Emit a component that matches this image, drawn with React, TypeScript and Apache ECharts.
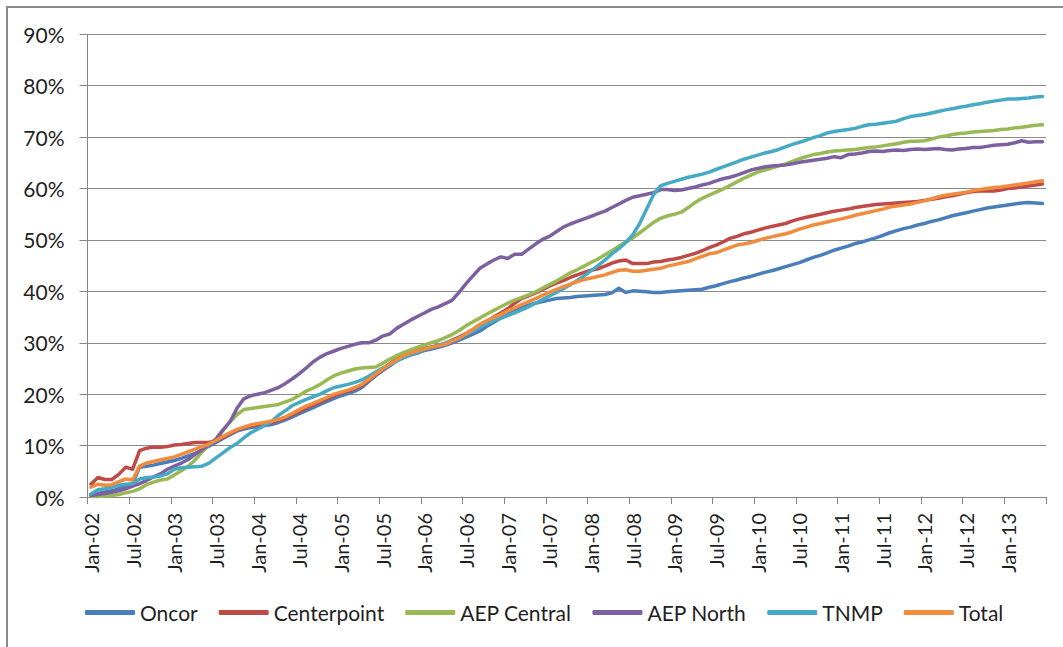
import React, { useEffect, useRef } from "react";
import * as echarts from "echarts";

const monthNames = ["Jan", "Feb", "Mar", "Apr", "May", "Jun", "Jul", "Aug", "Sep", "Oct", "Nov", "Dec"];
const startYear = 2002;
const monthCount = 138;
const categories: string[] = [];
for (let i = 0; i < monthCount; i++) {
  const y = startYear + Math.floor(i / 12);
  categories.push(`${monthNames[i % 12]}-${String(y % 100).padStart(2, "0")}`);
}

const seriesNames = ["Oncor", "Centerpoint", "AEP Central", "AEP North", "TNMP", "Total"];
const seriesColors = ["#4A7EBB", "#BE4B48", "#98B954", "#7D60A0", "#46AAC5", "#F08C3E"];

const oncor = [
  0.4, 0.7, 1.0, 1.2, 1.6, 2.2, 2.6, 5.8, 6.0, 6.2, 6.5, 6.8,
  7.1, 7.5, 8.0, 8.5, 9.1, 9.9, 10.6, 11.4, 12.1, 12.8, 13.2, 13.5,
  13.7, 13.9, 14.1, 14.5, 15.0, 15.6, 16.2, 16.8, 17.4, 18.0, 18.6, 19.2,
  19.7, 20.1, 20.6, 21.3, 22.5, 23.6, 24.6, 25.5, 26.5, 27.1, 27.6, 28.0,
  28.5, 28.8, 29.1, 29.5, 30.0, 30.5, 31.1, 31.7, 32.3, 33.2, 34.0, 34.8,
  35.5, 36.2, 36.9, 37.3, 37.7, 38.0, 38.3, 38.6, 38.7, 38.8, 39.0, 39.1,
  39.2, 39.3, 39.4, 39.7, 40.6, 39.8, 40.1, 40.0, 39.9, 39.8, 39.8, 39.9,
  40.0, 40.1, 40.2, 40.3, 40.4, 40.8, 41.1, 41.5, 41.9, 42.2, 42.6, 42.9,
  43.3, 43.7, 44.0, 44.4, 44.8, 45.2, 45.6, 46.1, 46.6, 47.0, 47.5, 48.0,
  48.4, 48.8, 49.3, 49.6, 50.0, 50.4, 50.9, 51.4, 51.8, 52.2, 52.5, 52.9,
  53.2, 53.6, 53.9, 54.3, 54.7, 55.0, 55.3, 55.6, 55.9, 56.2, 56.4, 56.6,
  56.8, 57.0, 57.2, 57.3, 57.2, 57.1,
];

const centerpoint = [
  2.5, 3.8, 3.4, 3.4, 4.4, 5.8, 5.4, 9.0, 9.5, 9.7, 9.7, 9.8,
  10.1, 10.2, 10.4, 10.6, 10.6, 10.6, 11.0, 11.6, 12.3, 13.0, 13.5, 13.8,
  14.0, 14.2, 14.5, 14.9, 15.4, 16.0, 16.6, 17.3, 17.9, 18.5, 19.1, 19.7,
  20.2, 20.6, 21.1, 21.7, 22.7, 23.8, 24.9, 25.9, 26.9, 27.7, 28.2, 28.6,
  28.9, 29.2, 29.5, 29.9, 30.5, 31.1, 31.8, 32.6, 33.4, 34.2, 35.0, 35.8,
  36.6, 37.7, 38.6, 39.1, 39.7, 40.3, 41.0, 41.6, 42.1, 42.7, 43.2, 43.7,
  44.1, 44.4, 44.9, 45.5, 45.9, 46.1, 45.4, 45.4, 45.4, 45.7, 45.8, 46.1,
  46.3, 46.6, 47.0, 47.4, 47.9, 48.5, 49.0, 49.6, 50.3, 50.7, 51.2, 51.5,
  51.9, 52.3, 52.6, 52.9, 53.2, 53.7, 54.1, 54.4, 54.7, 55.0, 55.3, 55.6,
  55.8, 56.0, 56.3, 56.5, 56.7, 56.9, 57.0, 57.1, 57.2, 57.3, 57.4, 57.5,
  57.7, 57.9, 58.1, 58.4, 58.6, 58.9, 59.2, 59.4, 59.5, 59.5, 59.5, 59.7,
  60.0, 60.1, 60.3, 60.5, 60.7, 60.9,
];

const aepCentral = [
  0.1, 0.1, 0.2, 0.3, 0.5, 0.8, 1.1, 1.6, 2.4, 2.9, 3.3, 3.5,
  4.3, 5.1, 6.0, 7.2, 8.8, 10.2, 11.3, 13.0, 14.6, 16.0, 17.0, 17.2,
  17.4, 17.6, 17.8, 18.0, 18.5, 19.0, 19.8, 20.6, 21.2, 21.9, 22.8, 23.6,
  24.1, 24.5, 24.9, 25.1, 25.2, 25.3, 26.0, 26.8, 27.5, 28.1, 28.6, 29.1,
  29.6, 30.0, 30.4, 31.0, 31.6, 32.4, 33.3, 34.1, 34.8, 35.6, 36.3, 37.0,
  37.7, 38.3, 38.8, 39.3, 39.9, 40.6, 41.3, 42.0, 42.8, 43.6, 44.2, 44.9,
  45.6, 46.3, 47.1, 47.9, 48.8, 49.6, 50.4, 51.4, 52.4, 53.4, 54.2, 54.7,
  55.0, 55.4, 56.3, 57.3, 58.1, 58.7, 59.3, 59.9, 60.6, 61.3, 62.0, 62.6,
  63.2, 63.6, 64.0, 64.4, 64.8, 65.3, 65.8, 66.2, 66.6, 66.8, 67.1, 67.3,
  67.4, 67.5, 67.6, 67.8, 68.0, 68.1, 68.3, 68.5, 68.7, 69.0, 69.2, 69.2,
  69.3, 69.6, 70.0, 70.2, 70.5, 70.7, 70.8, 71.0, 71.1, 71.2, 71.3, 71.5,
  71.6, 71.8, 71.9, 72.1, 72.3, 72.4,
];

const aepNorth = [
  0.3, 0.5, 0.7, 0.9, 1.2, 1.6, 2.1, 2.6, 3.2, 3.9, 4.5, 5.4,
  6.0, 6.6, 7.3, 8.3, 9.2, 10.2, 11.2, 13.0, 14.6, 17.2, 19.1, 19.7,
  20.0, 20.3, 20.8, 21.3, 22.1, 23.0, 24.0, 25.1, 26.3, 27.2, 27.9, 28.4,
  28.9, 29.3, 29.7, 30.0, 30.0, 30.5, 31.3, 31.7, 32.8, 33.6, 34.4, 35.1,
  35.8, 36.5, 37.0, 37.6, 38.3, 39.8, 41.5, 43.0, 44.5, 45.3, 46.1, 46.7,
  46.4, 47.2, 47.2, 48.2, 49.2, 50.1, 50.7, 51.6, 52.5, 53.1, 53.6, 54.1,
  54.6, 55.1, 55.6, 56.3, 57.0, 57.7, 58.3, 58.6, 58.9, 59.2, 59.8, 59.8,
  59.6, 59.7, 60.0, 60.3, 60.7, 61.0, 61.5, 61.9, 62.2, 62.6, 63.1, 63.6,
  63.9, 64.2, 64.4, 64.5, 64.6, 64.8, 65.1, 65.3, 65.5, 65.7, 65.9, 66.2,
  66.0, 66.6, 66.7, 66.9, 67.2, 67.3, 67.2, 67.4, 67.5, 67.4, 67.6, 67.7,
  67.6, 67.7, 67.8, 67.6, 67.5, 67.7, 67.8, 68.0, 68.0, 68.2, 68.4, 68.5,
  68.6, 68.9, 69.3, 69.0, 69.1, 69.1,
];

const tnmp = [
  0.6, 1.4, 1.6, 1.9, 2.3, 2.5, 2.6, 3.5, 3.8, 3.9, 4.1, 4.5,
  5.4, 5.7, 5.8, 5.9, 6.0, 6.6, 7.6, 8.6, 9.6, 10.4, 11.5, 12.5,
  13.2, 13.9, 14.7, 15.9, 16.8, 17.8, 18.4, 19.0, 19.5, 20.0, 20.7, 21.3,
  21.6, 21.9, 22.3, 22.8, 23.5, 24.3, 25.1, 25.8, 26.4, 27.1, 27.7, 28.2,
  28.7, 29.1, 29.5, 29.9, 30.4, 30.9, 31.6, 32.3, 33.0, 33.7, 34.3, 34.8,
  35.3, 35.8, 36.4, 37.0, 37.7, 38.4, 39.1, 39.8, 40.5, 41.3, 42.1, 43.0,
  44.0, 45.0, 46.1, 47.3, 48.3, 49.5, 51.0, 53.2, 56.0, 58.8, 60.5, 61.0,
  61.4, 61.8, 62.2, 62.5, 62.8, 63.2, 63.7, 64.2, 64.7, 65.2, 65.7, 66.1,
  66.5, 66.9, 67.2, 67.6, 68.1, 68.6, 69.0, 69.4, 69.9, 70.3, 70.8, 71.1,
  71.3, 71.5, 71.7, 72.1, 72.4, 72.5, 72.7, 72.9, 73.1, 73.6, 74.0, 74.2,
  74.4, 74.7, 75.0, 75.3, 75.5, 75.8, 76.0, 76.3, 76.5, 76.8, 77.0, 77.2,
  77.4, 77.4, 77.5, 77.6, 77.8, 77.9,
];

const total = [
  1.9, 2.5, 2.3, 2.4, 3.0, 3.5, 3.3, 6.0, 6.6, 6.9, 7.2, 7.5,
  7.8, 8.3, 8.8, 9.3, 9.8, 10.3, 11.0, 11.8, 12.5, 13.1, 13.6, 14.0,
  14.3, 14.5, 14.8, 15.1, 15.6, 16.3, 17.0, 17.7, 18.2, 18.8, 19.4, 20.0,
  20.4, 20.8, 21.3, 21.9, 22.9, 23.9, 24.9, 25.8, 26.7, 27.5, 28.0, 28.4,
  28.8, 29.1, 29.4, 29.7, 30.3, 30.9, 31.7, 32.6, 33.6, 34.3, 34.9, 35.5,
  36.2, 36.8, 37.4, 38.0, 38.6, 39.2, 39.8, 40.4, 40.9, 41.4, 41.9, 42.3,
  42.6, 42.9, 43.2, 43.7, 44.1, 44.2, 43.9, 43.9, 44.1, 44.3, 44.5, 44.9,
  45.2, 45.5, 45.8, 46.3, 46.8, 47.3, 47.5, 48.0, 48.5, 49.0, 49.2, 49.5,
  49.9, 50.3, 50.6, 50.9, 51.2, 51.6, 52.1, 52.5, 52.9, 53.2, 53.5, 53.8,
  54.1, 54.4, 54.8, 55.1, 55.4, 55.7, 56.0, 56.4, 56.6, 56.8, 57.0, 57.3,
  57.6, 58.0, 58.4, 58.7, 58.9, 59.1, 59.3, 59.6, 59.8, 60.0, 60.2, 60.3,
  60.5, 60.7, 60.9, 61.1, 61.3, 61.5,
];

const seriesData = [oncor, centerpoint, aepCentral, aepNorth, tnmp, total];

const FONT = "Lato, 'Open Sans', sans-serif";

export default function App() {
  const ref = useRef<HTMLDivElement>(null);
  useEffect(() => {
    if (!ref.current) return;
    const chart = echarts.init(ref.current, undefined, { renderer: "svg" });
    chart.setOption({
      animation: false,
      backgroundColor: "#ffffff",
      graphic: [
        {
          type: "rect",
          shape: { x: 7, y: 7, width: 1200, height: 800 },
          style: { fill: "none", stroke: "#8a8a8a", lineWidth: 2 },
          silent: true,
        },
      ],
      grid: { left: 87.5, top: 34.3, right: 17, bottom: 150, containLabel: false },
      legend: {
        data: seriesNames,
        left: 80,
        top: 597,
        icon: "roundRect",
        itemWidth: 50,
        itemHeight: 5,
        itemGap: 21,
        textStyle: { fontSize: 21, fontFamily: FONT, color: "#1f1f1f" },
      },
      xAxis: {
        type: "category",
        data: categories,
        boundaryGap: true,
        axisLine: { show: true, lineStyle: { color: "#868686", width: 1 } },
        axisTick: { show: true, interval: 5, length: 7, lineStyle: { color: "#868686" } },
        axisLabel: {
          interval: 5,
          rotate: 90,
          margin: 16,
          fontSize: 20,
          fontFamily: FONT,
          color: "#1f1f1f",
        },
        splitLine: { show: false },
      },
      yAxis: {
        type: "value",
        min: 0,
        max: 90,
        interval: 10,
        axisLine: { show: true, lineStyle: { color: "#868686", width: 1 } },
        axisTick: { show: true, length: 8, lineStyle: { color: "#868686" } },
        axisLabel: {
          formatter: "{value}%",
          fontSize: 21,
          fontFamily: FONT,
          color: "#1f1f1f",
          margin: 23,
        },
        splitLine: { show: true, lineStyle: { color: "#8a8a8a", width: 1 } },
      },
      series: seriesNames.map((name, k) => ({
        name,
        type: "line",
        data: seriesData[k],
        showSymbol: false,
        symbol: "none",
        smooth: false,
        color: seriesColors[k],
        lineStyle: { width: 3.5, color: seriesColors[k], cap: "round", join: "round" },
        z: 2 + k,
      })),
    });
    return () => chart.dispose();
  }, []);
  return (
    <div
      ref={ref}
      style={{ position: "fixed", left: 0, top: 0, width: 1063, height: 647, background: "#fff" }}
    />
  );
}
